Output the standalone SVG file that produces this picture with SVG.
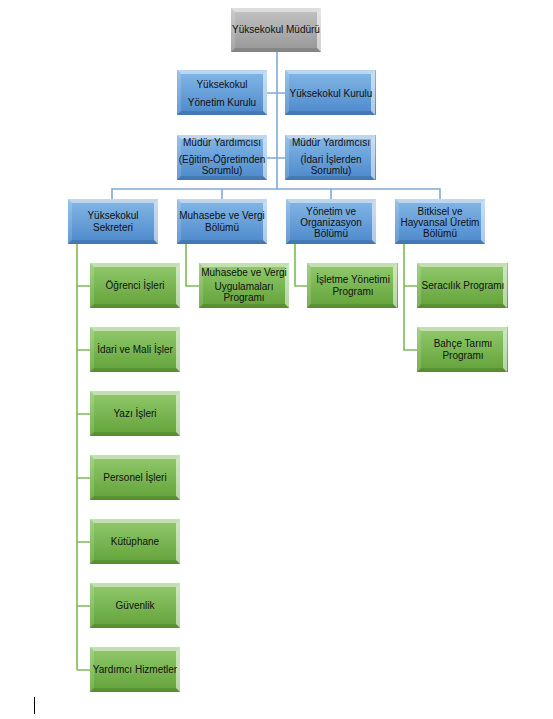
<svg xmlns="http://www.w3.org/2000/svg" xmlns:xlink="http://www.w3.org/1999/xlink" width="553" height="719" viewBox="0 0 553 719">
<defs>
<linearGradient id="gBlue" x1="0" y1="0" x2="0" y2="1"><stop offset="0" stop-color="#86b8e6"/><stop offset="1" stop-color="#4b88cb"/></linearGradient>
<linearGradient id="gGray" x1="0" y1="0" x2="0" y2="1"><stop offset="0" stop-color="#c4c4c4"/><stop offset="1" stop-color="#969696"/></linearGradient>
<linearGradient id="gGreen" x1="0" y1="0" x2="0" y2="1"><stop offset="0" stop-color="#92cb6e"/><stop offset="1" stop-color="#62a138"/></linearGradient>
<g id="bev">
<polygon points="0,0 90,0 86,4 4,4" fill="#fff" fill-opacity="0.45"/>
<polygon points="0,0 4,4 4,41 0,45" fill="#fff" fill-opacity="0.15"/>
<polygon points="90,0 90,45 86,41 86,4" fill="#fff" fill-opacity="0.55"/>
<polygon points="0,45 4,41 86,41 90,45" fill="#000" fill-opacity="0.12"/>
</g>
</defs>
<style>
.blue{fill:url(#gBlue)}
.gray{fill:url(#gGray)}
.green{fill:url(#gGreen)}
text{font-family:"Liberation Sans",Arial,sans-serif;font-size:10px;fill:#111;text-anchor:middle}
.cb{fill:none;stroke:#7eaadc;stroke-width:1.6}
.cg{fill:none;stroke:#7fba57;stroke-width:1.6}
</style>
<g id="connectors">
<path class="cb" d="M277,52 V189 M267,93 H285 M267,158 H285 M112,199 V189 H440 V199 M222,189 V199 M331,189 V199"/>
<path class="cg" d="M77,244 V670 M77,286 H90 M77,350 H90 M77,414 H90 M77,478 H90 M77,542 H90 M77,606 H90 M77,670 H90"/>
<path class="cg" d="M186,244 V286 H199 M295,244 V286 H307 M404,244 V350 H417 M404,286 H417"/>
</g>
<g id="n-mudur"><rect class="gray" x="231" y="8" width="90" height="44"/><use xlink:href="#bev" transform="translate(231,8) scale(1,0.978)"/><text x="276" y="33">Yüksekokul Müdürü</text></g>
<g id="n-yonetim-kurulu"><rect class="blue" x="177" y="70" width="90" height="45"/><use xlink:href="#bev" transform="translate(177,70)"/><text x="222" y="88">Yüksekokul</text><text x="222" y="106">Yönetim Kurulu</text></g>
<g id="n-kurul"><rect class="blue" x="285" y="70" width="91" height="45"/><use xlink:href="#bev" transform="translate(285,70)"/><text x="331" y="97">Yüksekokul Kurulu</text></g>
<g id="n-mudur-yrd1"><rect class="blue" x="177" y="135" width="90" height="45"/><use xlink:href="#bev" transform="translate(177,135)"/><text x="222" y="146">Müdür Yardımcısı</text><text x="222" y="163">(Eğitim-Öğretimden</text><text x="222" y="174">Sorumlu)</text></g>
<g id="n-mudur-yrd2"><rect class="blue" x="285" y="135" width="91" height="45"/><use xlink:href="#bev" transform="translate(285,135)"/><text x="331" y="146">Müdür Yardımcısı</text><text x="331" y="163">(İdari İşlerden</text><text x="331" y="174">Sorumlu)</text></g>
<g id="n-sekreter"><rect class="blue" x="68" y="199" width="90" height="45"/><use xlink:href="#bev" transform="translate(68,199)"/><text x="113" y="219">Yüksekokul</text><text x="113" y="231">Sekreteri</text></g>
<g id="n-muhasebe"><rect class="blue" x="177" y="199" width="90" height="45"/><use xlink:href="#bev" transform="translate(177,199)"/><text x="222" y="219">Muhasebe ve Vergi</text><text x="222" y="231">Bölümü</text></g>
<g id="n-yonetim-org"><rect class="blue" x="286" y="199" width="90" height="45"/><use xlink:href="#bev" transform="translate(286,199)"/><text x="331" y="215">Yönetim ve</text><text x="331" y="226">Organizasyon</text><text x="331" y="237">Bölümü</text></g>
<g id="n-bitkisel"><rect class="blue" x="395" y="199" width="90" height="45"/><use xlink:href="#bev" transform="translate(395,199)"/><text x="440" y="215">Bitkisel ve</text><text x="440" y="226">Hayvansal Üretim</text><text x="440" y="237">Bölümü</text></g>
<g id="n-ogrenci"><rect class="green" x="90" y="263" width="90" height="45"/><use xlink:href="#bev" transform="translate(90,263)"/><text x="135" y="289">Öğrenci İşleri</text></g>
<g id="n-idari"><rect class="green" x="90" y="327" width="90" height="45"/><use xlink:href="#bev" transform="translate(90,327)"/><text x="135" y="353">İdari ve Mali İşler</text></g>
<g id="n-yazi"><rect class="green" x="90" y="391" width="90" height="45"/><use xlink:href="#bev" transform="translate(90,391)"/><text x="135" y="417">Yazı İşleri</text></g>
<g id="n-personel"><rect class="green" x="90" y="455" width="90" height="45"/><use xlink:href="#bev" transform="translate(90,455)"/><text x="135" y="481">Personel İşleri</text></g>
<g id="n-kutuphane"><rect class="green" x="90" y="519" width="90" height="45"/><use xlink:href="#bev" transform="translate(90,519)"/><text x="135" y="545">Kütüphane</text></g>
<g id="n-guvenlik"><rect class="green" x="90" y="583" width="90" height="45"/><use xlink:href="#bev" transform="translate(90,583)"/><text x="135" y="609">Güvenlik</text></g>
<g id="n-yardimci"><rect class="green" x="90" y="647" width="90" height="45"/><use xlink:href="#bev" transform="translate(90,647)"/><text x="135" y="673">Yardımcı Hizmetler</text></g>
<g id="n-muh-prog"><rect class="green" x="199" y="263" width="90" height="45"/><use xlink:href="#bev" transform="translate(199,263)"/><text x="244" y="276">Muhasebe ve Vergi</text><text x="244" y="290">Uygulamaları</text><text x="244" y="301">Programı</text></g>
<g id="n-isletme"><rect class="green" x="307" y="263" width="91" height="45"/><use xlink:href="#bev" transform="translate(307,263)"/><text x="353" y="283">İşletme Yönetimi</text><text x="353" y="295">Programı</text></g>
<g id="n-seracilik"><rect class="green" x="417" y="263" width="91" height="45"/><use xlink:href="#bev" transform="translate(417,263)"/><text x="463" y="289">Seracılık Programı</text></g>
<g id="n-bahce"><rect class="green" x="417" y="327" width="91" height="45"/><use xlink:href="#bev" transform="translate(417,327)"/><text x="463" y="347">Bahçe Tarımı</text><text x="463" y="359">Programı</text></g>
<line x1="34.5" y1="697" x2="34.5" y2="714" stroke="#000" stroke-width="1"/>
</svg>
